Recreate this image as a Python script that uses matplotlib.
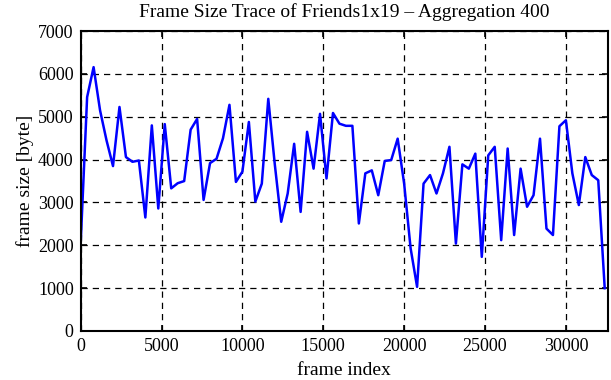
import numpy as np
import matplotlib
matplotlib.use("Agg")
import matplotlib.pyplot as plt

# frame size, aggregated over 400 frames
frame_index = np.arange(0, 32401, 400)
frame_size = [
    2040, 5460, 6160, 5150, 4450, 3850, 5230, 4060, 3950, 3980,
    2650, 4800, 2860, 4830, 3330, 3450, 3500, 4700, 4950, 3060,
    3920, 4020, 4500, 5280, 3480, 3720, 4880, 3020, 3440, 5420,
    3900, 2550, 3210, 4370, 2780, 4650, 3790, 5070, 3560, 5090,
    4840, 4790, 4790, 2510, 3680, 3750, 3170, 3970, 3990, 4490,
    3440, 1930, 1030, 3440, 3640, 3210, 3680, 4300, 2040, 3890,
    3790, 4140, 1730, 4100, 4300, 2120, 4260, 2240, 3790, 2900,
    3170, 4490, 2390, 2240, 4780, 4920, 3680, 2940, 4060, 3640,
    3520, 1000,
]
x_ticks = [0, 5000, 10000, 15000, 20000, 25000, 30000]
y_ticks = [0, 1000, 2000, 3000, 4000, 5000, 6000, 7000]

plt.rcParams["font.family"] = ["Liberation Serif", "DejaVu Serif"]
plt.rcParams["font.size"] = 13

fig = plt.figure(figsize=(6.11, 3.80), dpi=100)
ax = fig.add_axes([0.132, 0.129, 0.863, 0.789])
ax.plot(frame_index, frame_size, color="#0000ff", linewidth=1.8)

ax.set_xlim(0, 32600)
ax.set_ylim(0, 7000)
ax.set_xticks(x_ticks)
ax.set_yticks(y_ticks)
ax.grid(True, color="black", linestyle=(0, (5, 4)), linewidth=0.9)
ax.tick_params(direction="in", top=True, right=True, length=4, width=1.2, pad=5)
for s in ax.spines.values():
    s.set_linewidth(1.5)

ax.set_xlabel("frame index", fontsize=14, labelpad=5)
ax.set_ylabel("frame size [byte]", fontsize=14, labelpad=3)
ax.set_title("Frame Size Trace of Friends1x19 \u2013 Aggregation 400", fontsize=14, pad=10)

fig.savefig("out.png", dpi=100)
plt.close(fig)
